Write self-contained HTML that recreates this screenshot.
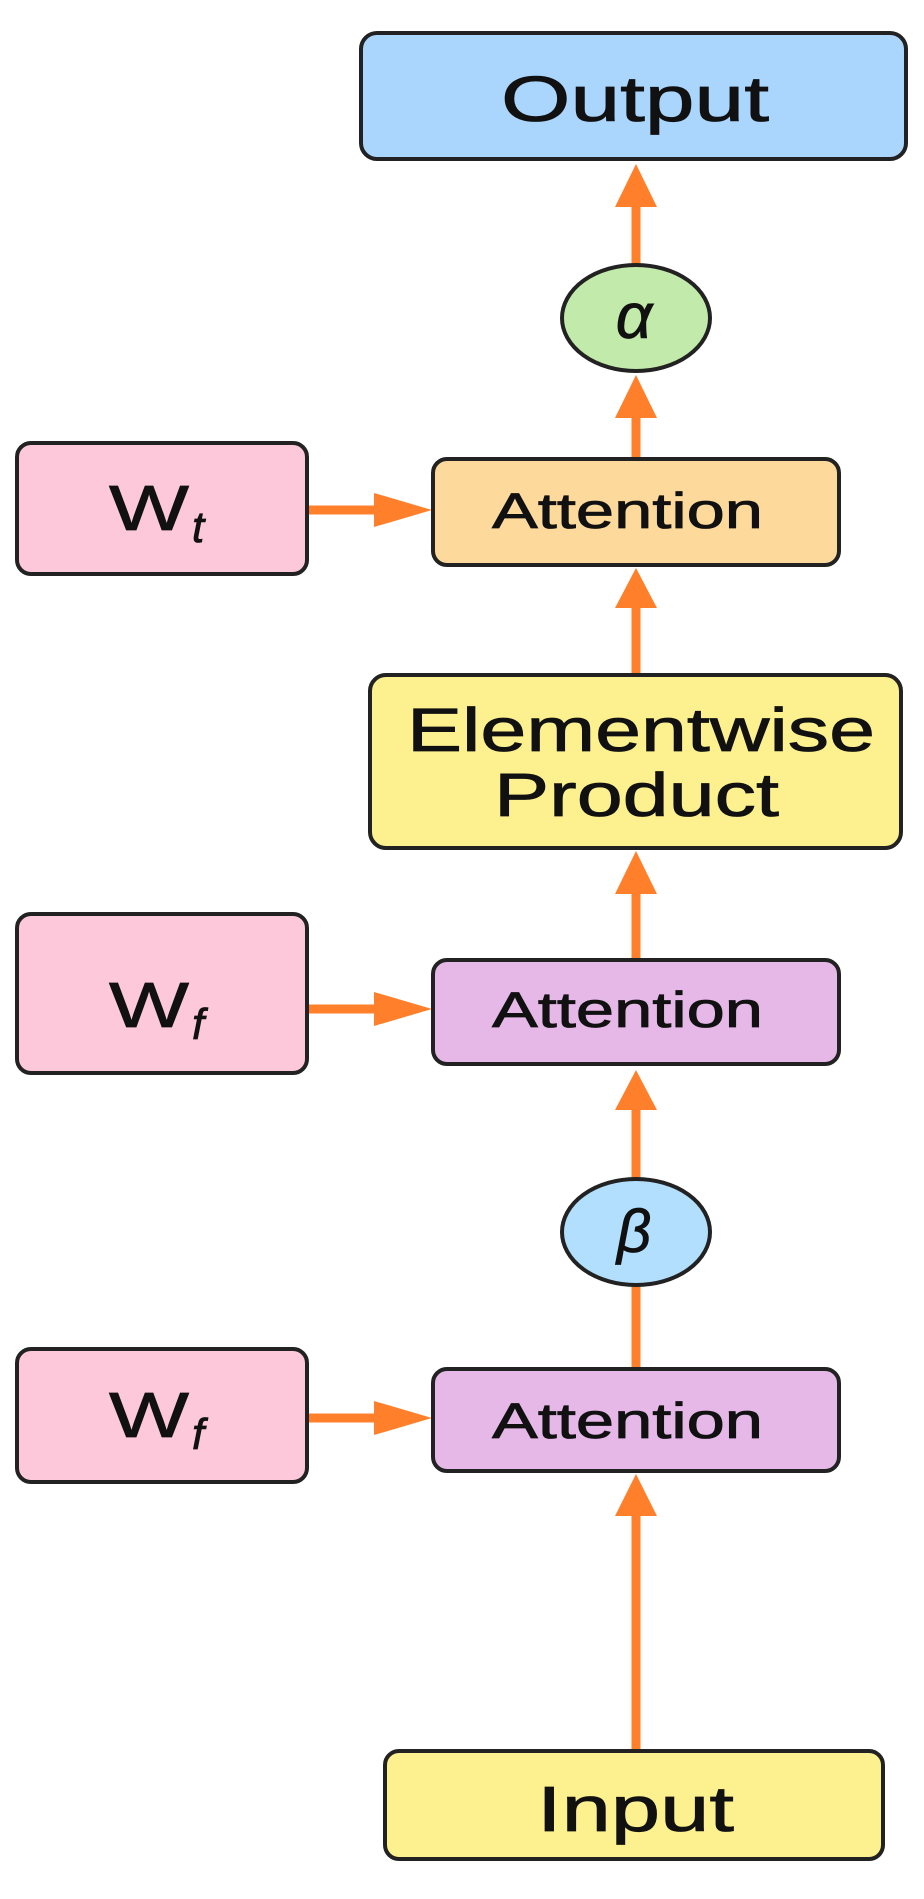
<!DOCTYPE html>
<html><head><meta charset="utf-8"><style>
html,body{margin:0;padding:0;background:#fff;}
svg{display:block;}
text{font-family:"Liberation Sans",sans-serif;fill:#111;stroke:#111;stroke-width:0.8;}
</style></head><body>
<svg width="924" height="1899" viewBox="0 0 924 1899" xmlns="http://www.w3.org/2000/svg">
<g stroke="#ff7f2a" stroke-width="9" fill="none">
<line x1="636" y1="204" x2="636" y2="264"/>
<line x1="636" y1="415" x2="636" y2="458"/>
<line x1="636" y1="605" x2="636" y2="674"/>
<line x1="636" y1="891" x2="636" y2="959"/>
<line x1="636" y1="1107" x2="636" y2="1179"/>
<line x1="636" y1="1286" x2="636" y2="1368"/>
<line x1="636" y1="1514" x2="636" y2="1750"/>
<line x1="308" y1="510" x2="378" y2="510"/>
<line x1="308" y1="1009" x2="378" y2="1009"/>
<line x1="308" y1="1418" x2="378" y2="1418"/>
</g>
<g fill="#ff7f2a">
<polygon points="636,164 615,207 657,207"/>
<polygon points="636,375 615,418 657,418"/>
<polygon points="636,568 615,608 657,608"/>
<polygon points="636,851 615,894 657,894"/>
<polygon points="636,1070 615,1110 657,1110"/>
<polygon points="636,1474 615,1516 657,1516"/>
<polygon points="432,510 374,493 374,527"/>
<polygon points="432,1009 374,992 374,1026"/>
<polygon points="432,1418 374,1401 374,1435"/>
</g>
<g stroke="#222" stroke-width="4">
<rect x="361" y="33" width="545" height="126" rx="16" fill="#aad5fd"/>
<ellipse cx="636" cy="318" rx="74" ry="53" fill="#c2ebab"/>
<rect x="433" y="459" width="406" height="106" rx="14" fill="#fdd99b"/>
<rect x="17" y="443" width="290" height="131" rx="14" fill="#fdc8da"/>
<rect x="370" y="675" width="531" height="173" rx="16" fill="#fdf08f"/>
<rect x="433" y="960" width="406" height="104" rx="14" fill="#e6b8e8"/>
<rect x="17" y="914" width="290" height="159" rx="14" fill="#fdc8da"/>
<ellipse cx="636" cy="1232" rx="74" ry="53" fill="#b1dffd"/>
<rect x="433" y="1369" width="406" height="102" rx="14" fill="#e6b8e8"/>
<rect x="17" y="1349" width="290" height="133" rx="14" fill="#fdc8da"/>
<rect x="385" y="1751" width="498" height="108" rx="14" fill="#fdf08f"/>
</g>
<text x="501" y="121" font-size="64" textLength="268" lengthAdjust="spacingAndGlyphs">Output</text>
<text x="634" y="338" font-size="64" font-style="italic" text-anchor="middle">α</text>
<text x="492" y="528" font-size="50" textLength="271" lengthAdjust="spacingAndGlyphs">Attention</text>
<text x="109" y="530" font-size="64" textLength="80" lengthAdjust="spacingAndGlyphs">W</text><text x="192" y="542" font-size="44" font-style="italic">t</text>
<text x="407" y="751" font-size="61" textLength="468" lengthAdjust="spacingAndGlyphs">Elementwise</text>
<text x="494" y="816" font-size="61" textLength="285" lengthAdjust="spacingAndGlyphs">Product</text>
<text x="492" y="1027" font-size="50" textLength="271" lengthAdjust="spacingAndGlyphs">Attention</text>
<text x="109" y="1027" font-size="64" textLength="80" lengthAdjust="spacingAndGlyphs">W</text><text x="192" y="1039" font-size="44" font-style="italic">f</text>
<text x="634" y="1252" font-size="60" font-style="italic" text-anchor="middle">β</text>
<text x="492" y="1438" font-size="50" textLength="271" lengthAdjust="spacingAndGlyphs">Attention</text>
<text x="109" y="1437" font-size="64" textLength="80" lengthAdjust="spacingAndGlyphs">W</text><text x="192" y="1449" font-size="44" font-style="italic">f</text>
<text x="537" y="1831" font-size="64" textLength="197" lengthAdjust="spacingAndGlyphs">Input</text>
</svg>
</body></html>
